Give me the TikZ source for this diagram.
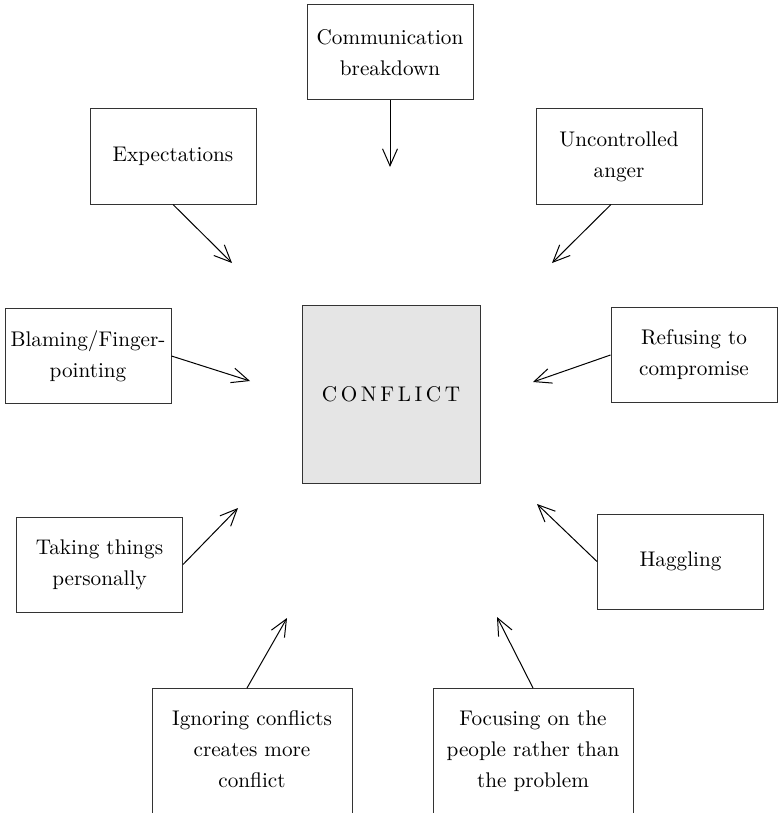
\documentclass[tikz,border=0pt]{standalone}
\usepackage{fontspec}
\setmainfont{Latin Modern Roman}
\usetikzlibrary{arrows.meta, calc}

\begin{document}
\begin{tikzpicture}[
  x=0.5pt, y=-0.5pt,
  font=\fontsize{10.6}{15.5}\selectfont,
  cause/.style={draw=black!80, line width=0.5pt, align=center,
    minimum width=83pt, minimum height=47.5pt, inner sep=2pt},
  longcause/.style={draw=black!80, line width=0.5pt, align=center, anchor=north,
    minimum width=100pt, inner ysep=11pt, text depth=80pt},
  core/.style={draw=black!80, line width=0.5pt, fill=gray!20, minimum size=89pt},
  push/.style={-{Straight Barb[length=8.5pt, width=7.5pt]}, line width=0.5pt}
]
\path[use as bounding box, clip] (0,0) rectangle (783,813);

% --- the centre ---
\node[core] (conflict) at (391,394)
  {\addfontfeatures{LetterSpace=17}CONFLICT};

% --- causes round it ---
\node[cause] (comm)   at (390,52.5)  {Communication\\breakdown};
\node[cause] (expect) at (173,156.5) {Expectations};
\node[cause] (anger)  at (619,156.5) {Uncontrolled\\anger};
\node[cause] (blame)  at (88,356)    {Blaming/Finger-\\pointing};
\node[cause] (refuse) at (694,355)   {Refusing to\\compromise};
\node[cause] (taking) at (99.5,564.5) {Taking things\\personally};
\node[cause] (haggle) at (680.5,561.5) {Haggling};
\node[longcause] (ignore) at (252,688) {Ignoring conflicts\\creates more\\conflict};
\node[longcause] (focus)  at (533,688) {Focusing on the\\people rather than\\the problem};

% arrow tips stop short of the centre box
\coordinate (t-comm)   at (390,167);
\coordinate (t-expect) at (232,263);
\coordinate (t-anger)  at (552,263);
\coordinate (t-blame)  at (250,381);
\coordinate (t-refuse) at (533,382);
\coordinate (t-taking) at (238,508);
\coordinate (t-haggle) at (537,504);
\coordinate (t-ignore) at (287,618);
\coordinate (t-focus)  at (497,617);

\draw[push] (comm.south) -- (t-comm);
\draw[push] (expect.south) -- (t-expect);
\draw[push] ($(anger.south)+(-8,0)$) -- (t-anger);
\draw[push] (blame.east) -- (t-blame);
\draw[push] (refuse.west) -- (t-refuse);
\draw[push] (taking.east) -- (t-taking);
\draw[push] (haggle.west) -- (t-haggle);
\draw[push] ($(ignore.north)+(-5,0)$) -- (t-ignore);
\draw[push] (focus.north) -- (t-focus);

\end{tikzpicture}
\end{document}
